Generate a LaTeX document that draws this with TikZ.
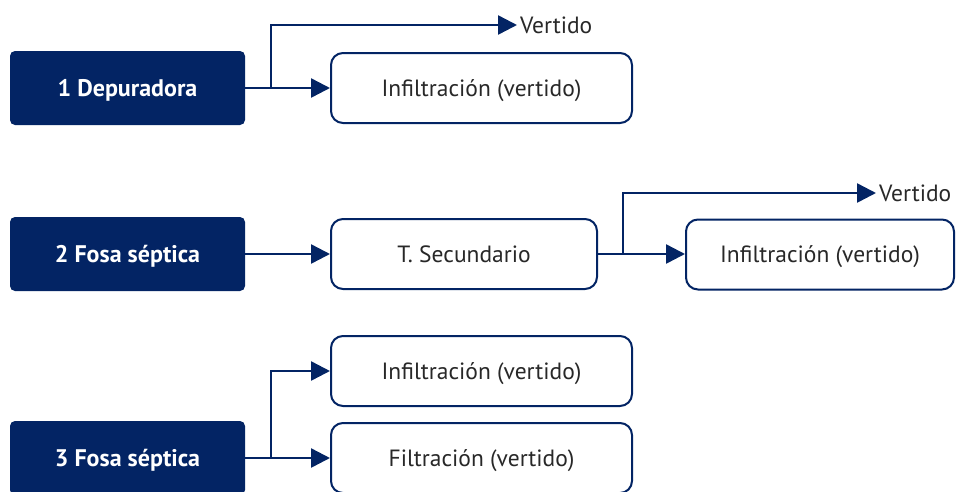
\documentclass[tikz,border=0pt]{standalone}
\usepackage{fontspec}
\setmainfont{PT Sans}
\usetikzlibrary{arrows.meta}
\definecolor{navy}{RGB}{3,36,100}
\definecolor{txtgray}{RGB}{40,40,40}
\begin{document}
\begin{tikzpicture}[x=1pt,y=-1pt,
  dark/.style={fill=navy, rounded corners=5pt, minimum width=235pt, minimum height=74pt,
    text=white, font=\fontsize{24}{28}\selectfont\bfseries, inner sep=0pt, text depth=0pt},
  light/.style={draw=navy, line width=2pt, rounded corners=12pt, fill=white,
    minimum height=70pt, text=txtgray, font=\fontsize{23.5}{28}\selectfont, inner sep=0pt, text depth=0pt},
  conn/.style={draw=navy, line width=2.5pt, -{Triangle[length=19pt,width=19pt]}},
  lab/.style={text=txtgray, font=\fontsize{23.5}{28}\selectfont, anchor=west, inner sep=3pt}]
\useasboundingbox (0,0) rectangle (958,491);
\clip (0,0) rectangle (958,491);
% row 1
\node[dark] (D1) at (127.5,88) {1 Depuradora};
\node[light, minimum width=301pt] (W1) at (481.5,88) {Infiltración (vertido)};
\node[lab] (V1) at (517,25) {Vertido};
\coordinate (b1) at (271,88);
% row 2
\node[dark] (D2) at (127.5,254) {2 Fosa séptica};
\node[light, minimum width=266pt] (T2) at (464,254) {T. Secundario};
\node[light, minimum width=268pt] (W2) at (820,254.5) {Infiltración (vertido)};
\node[lab] (V2) at (876,193) {Vertido};
\coordinate (b2) at (623,254);
% row 3
\node[dark] (D3) at (127.5,458) {3 Fosa séptica};
\node[light, minimum width=301pt] (W3a) at (481.5,371) {Infiltración (vertido)};
\node[light, minimum width=301pt] (W3b) at (481.5,458) {Filtración (vertido)};
\coordinate (b3) at (271,458);
% connectors
\draw[conn] (D1.east) -- (W1.west);
\draw[conn] (b1) |- (V1.west);
\draw[conn] (D2.east) -- (T2.west);
\draw[conn] (T2.east) -- (W2.west |- T2.east);
\draw[conn] (b2) |- (V2.west);
\draw[conn] (D3.east) -- (W3b.west);
\draw[conn] (b3) |- (W3a.west);
\end{tikzpicture}
\end{document}
